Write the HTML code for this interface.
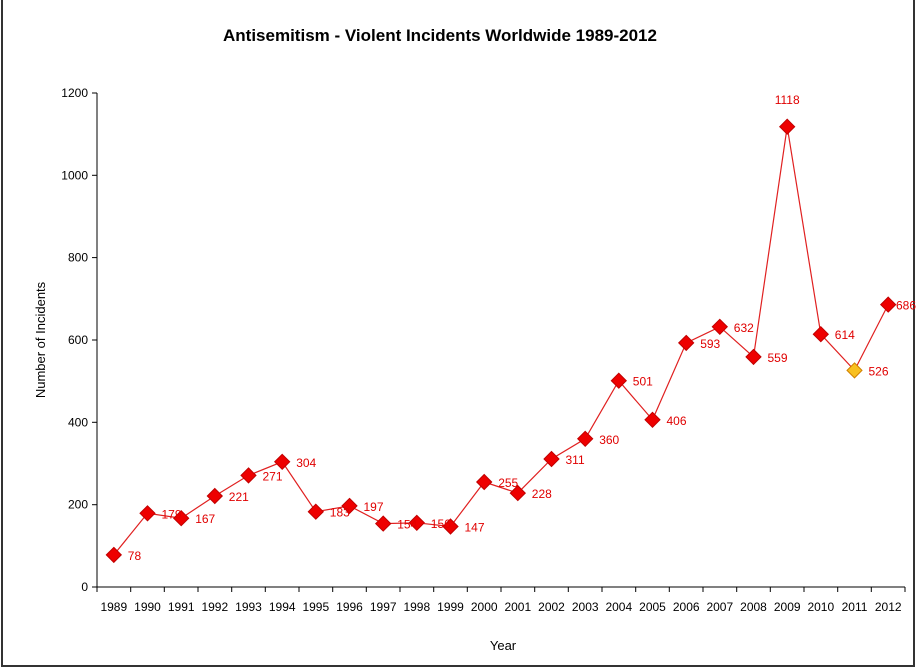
<!DOCTYPE html>
<html><head><meta charset="utf-8"><style>body{margin:0;background:#fff}svg{display:block}</style></head>
<body>
<svg width="920" height="670" xmlns="http://www.w3.org/2000/svg" font-family="Liberation Sans, sans-serif">
<rect x="2" y="-2" width="912" height="668" fill="#fff" stroke="#333" stroke-width="2"/>
<text x="440" y="41" text-anchor="middle" font-size="17" font-weight="bold">Antisemitism -  Violent Incidents Worldwide 1989-2012</text>
<text transform="translate(45,340) rotate(-90)" text-anchor="middle" font-size="13">Number of Incidents</text>
<text x="503" y="650" text-anchor="middle" font-size="13">Year</text>
<g stroke="#000" stroke-width="1">
<line x1="97" y1="93" x2="97" y2="587"/>
<line x1="97" y1="587" x2="905" y2="587"/>
<line x1="92" y1="587" x2="97" y2="587"/><line x1="92" y1="504.7" x2="97" y2="504.7"/><line x1="92" y1="422.3" x2="97" y2="422.3"/><line x1="92" y1="340" x2="97" y2="340"/><line x1="92" y1="257.6" x2="97" y2="257.6"/><line x1="92" y1="175.3" x2="97" y2="175.3"/><line x1="92" y1="93" x2="97" y2="93"/>
<line x1="97" y1="587" x2="97" y2="592"/><line x1="130.7" y1="587" x2="130.7" y2="592"/><line x1="164.3" y1="587" x2="164.3" y2="592"/><line x1="198" y1="587" x2="198" y2="592"/><line x1="231.7" y1="587" x2="231.7" y2="592"/><line x1="265.3" y1="587" x2="265.3" y2="592"/><line x1="299" y1="587" x2="299" y2="592"/><line x1="332.7" y1="587" x2="332.7" y2="592"/><line x1="366.3" y1="587" x2="366.3" y2="592"/><line x1="400" y1="587" x2="400" y2="592"/><line x1="433.7" y1="587" x2="433.7" y2="592"/><line x1="467.3" y1="587" x2="467.3" y2="592"/><line x1="501" y1="587" x2="501" y2="592"/><line x1="534.7" y1="587" x2="534.7" y2="592"/><line x1="568.3" y1="587" x2="568.3" y2="592"/><line x1="602" y1="587" x2="602" y2="592"/><line x1="635.7" y1="587" x2="635.7" y2="592"/><line x1="669.3" y1="587" x2="669.3" y2="592"/><line x1="703" y1="587" x2="703" y2="592"/><line x1="736.7" y1="587" x2="736.7" y2="592"/><line x1="770.3" y1="587" x2="770.3" y2="592"/><line x1="804" y1="587" x2="804" y2="592"/><line x1="837.7" y1="587" x2="837.7" y2="592"/><line x1="871.3" y1="587" x2="871.3" y2="592"/><line x1="905" y1="587" x2="905" y2="592"/>
</g>
<g font-size="12" text-anchor="end">
<text x="88" y="591">0</text><text x="88" y="508.7">200</text><text x="88" y="426.3">400</text><text x="88" y="344">600</text><text x="88" y="261.6">800</text><text x="88" y="179.3">1000</text><text x="88" y="97">1200</text>
</g>
<g font-size="12" text-anchor="middle">
<text x="113.8" y="611">1989</text><text x="147.5" y="611">1990</text><text x="181.2" y="611">1991</text><text x="214.8" y="611">1992</text><text x="248.5" y="611">1993</text><text x="282.2" y="611">1994</text><text x="315.8" y="611">1995</text><text x="349.5" y="611">1996</text><text x="383.2" y="611">1997</text><text x="416.8" y="611">1998</text><text x="450.5" y="611">1999</text><text x="484.2" y="611">2000</text><text x="517.8" y="611">2001</text><text x="551.5" y="611">2002</text><text x="585.2" y="611">2003</text><text x="618.8" y="611">2004</text><text x="652.5" y="611">2005</text><text x="686.2" y="611">2006</text><text x="719.8" y="611">2007</text><text x="753.5" y="611">2008</text><text x="787.2" y="611">2009</text><text x="820.8" y="611">2010</text><text x="854.5" y="611">2011</text><text x="888.2" y="611">2012</text>
</g>
<polyline fill="none" stroke="#e02020" stroke-width="1.2" points="113.8,554.9 147.5,513.3 181.2,518.2 214.8,496 248.5,475.4 282.2,461.8 315.8,511.7 349.5,505.9 383.2,523.6 416.8,522.8 450.5,526.5 484.2,482 517.8,493.1 551.5,459 585.2,438.8 618.8,380.7 652.5,419.8 686.2,342.9 719.8,326.8 753.5,356.9 787.2,126.7 820.8,334.2 854.5,370.4 888.2,304.6"/>
<g fill="#ee0000" stroke="#c00000">
<polygon points="113.8,547.4 121.3,554.9 113.8,562.4 106.3,554.9"/>
<polygon points="147.5,505.8 155,513.3 147.5,520.8 140,513.3"/>
<polygon points="181.2,510.7 188.7,518.2 181.2,525.7 173.7,518.2"/>
<polygon points="214.8,488.5 222.3,496 214.8,503.5 207.3,496"/>
<polygon points="248.5,467.9 256,475.4 248.5,482.9 241,475.4"/>
<polygon points="282.2,454.3 289.7,461.8 282.2,469.3 274.7,461.8"/>
<polygon points="315.8,504.2 323.3,511.7 315.8,519.2 308.3,511.7"/>
<polygon points="349.5,498.4 357,505.9 349.5,513.4 342,505.9"/>
<polygon points="383.2,516.1 390.7,523.6 383.2,531.1 375.7,523.6"/>
<polygon points="416.8,515.3 424.3,522.8 416.8,530.3 409.3,522.8"/>
<polygon points="450.5,519 458,526.5 450.5,534 443,526.5"/>
<polygon points="484.2,474.5 491.7,482 484.2,489.5 476.7,482"/>
<polygon points="517.8,485.6 525.3,493.1 517.8,500.6 510.3,493.1"/>
<polygon points="551.5,451.5 559,459 551.5,466.5 544,459"/>
<polygon points="585.2,431.3 592.7,438.8 585.2,446.3 577.7,438.8"/>
<polygon points="618.8,373.2 626.3,380.7 618.8,388.2 611.3,380.7"/>
<polygon points="652.5,412.3 660,419.8 652.5,427.3 645,419.8"/>
<polygon points="686.2,335.4 693.7,342.9 686.2,350.4 678.7,342.9"/>
<polygon points="719.8,319.3 727.3,326.8 719.8,334.3 712.3,326.8"/>
<polygon points="753.5,349.4 761,356.9 753.5,364.4 746,356.9"/>
<polygon points="787.2,119.2 794.7,126.7 787.2,134.2 779.7,126.7"/>
<polygon points="820.8,326.7 828.3,334.2 820.8,341.7 813.3,334.2"/>
<polygon points="854.5,362.9 862,370.4 854.5,377.9 847,370.4" fill="#f8c020" stroke="#d08000"/>
<polygon points="888.2,297.1 895.7,304.6 888.2,312.1 880.7,304.6"/>
</g>
<g font-size="12" fill="#e00000">
<text x="127.8" y="559.9">78</text><text x="161.5" y="518.3">179</text><text x="195.2" y="523.2">167</text><text x="228.8" y="501">221</text><text x="262.5" y="480.4">271</text><text x="296.2" y="466.8">304</text><text x="329.8" y="516.7">183</text><text x="363.5" y="510.9">197</text><text x="397.2" y="528.6">154</text><text x="430.8" y="527.8">156</text><text x="464.5" y="531.5">147</text><text x="498.2" y="487">255</text><text x="531.8" y="498.1">228</text><text x="565.5" y="464">311</text><text x="599.2" y="443.8">360</text><text x="632.8" y="385.7">501</text><text x="666.5" y="424.8">406</text><text x="700.2" y="347.9">593</text><text x="733.8" y="331.8">632</text><text x="767.5" y="361.9">559</text><text x="787.2" y="104" text-anchor="middle">1118</text><text x="834.8" y="339.2">614</text><text x="868.5" y="375.4">526</text><text x="896" y="309.6">686</text>
</g>
</svg>
</body></html>
